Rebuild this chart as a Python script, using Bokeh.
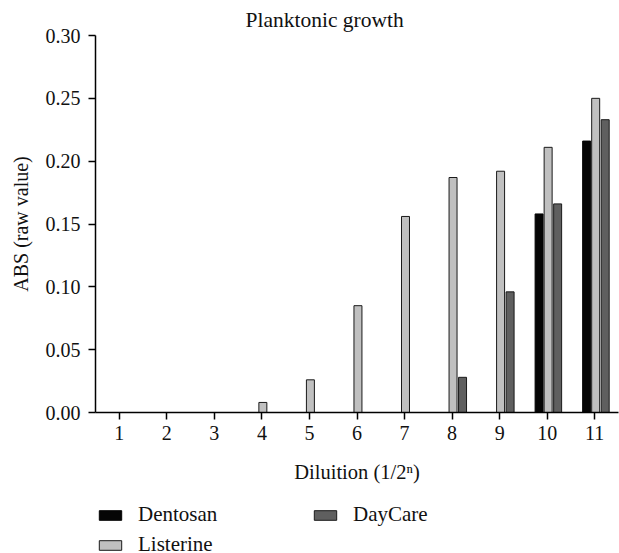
from bokeh.plotting import figure
from bokeh.layouts import column
from bokeh.models import (ColumnDataSource, Legend, LegendItem, FixedTicker, Title,
                          NumeralTickFormatter, CDSView, IndexFilter)
from bokeh.transform import dodge
from bokeh.embed import file_html
from bokeh.resources import INLINE

dilution = [1, 2, 3, 4, 5, 6, 7, 8, 9, 10, 11]
dentosan = [0, 0, 0, 0, 0, 0, 0, 0, 0, 0.158, 0.216]
listerine = [0, 0, 0, 0.008, 0.026, 0.085, 0.156, 0.187, 0.192, 0.211, 0.250]
daycare = [0, 0, 0, 0, 0, 0, 0, 0.028, 0.096, 0.166, 0.233]
y_ticks = [0.0, 0.05, 0.10, 0.15, 0.20, 0.25, 0.30]
series_names = ["Dentosan", "Listerine", "DayCare"]

FONT = "Liberation Serif"
FS = "20px"
FILLS = ["#050505", "#c0c0c0", "#5f5f5f"]
LINES = ["#050505", "#1a1a1a", "#1a1a1a"]
cols = ["dentosan", "listerine", "daycare"]

src = ColumnDataSource(dict(x=dilution, dentosan=dentosan, listerine=listerine, daycare=daycare))

p = figure(width=619, height=498, output_backend="svg", toolbar_location=None,
           x_range=(0.5, 11.5), y_range=(0, 0.30),
           min_border_left=95, min_border_right=1, min_border_top=35, min_border_bottom=86)
p.outline_line_color = None
p.xgrid.visible = False
p.ygrid.visible = False
p.background_fill_color = "white"

t = Title(text="Planktonic growth", align="left", offset=150, standoff=7,
          text_font=FONT, text_font_size="21.5px", text_font_style="normal", text_color="#111111")
p.add_layout(t, "above")

w = 0.168
offsets = [-0.17, 0.02, 0.22]
for off, col, fc, lc in zip(offsets, cols, FILLS, LINES):
    p.vbar(x=dodge("x", off, range=p.x_range), top=col, width=w, source=src,
           fill_color=fc, line_color=lc, line_width=1)

for ax in (p.xaxis[0], p.yaxis[0]):
    ax.axis_line_color = "black"
    ax.axis_line_width = 1.5
    ax.major_tick_line_color = "black"
    ax.major_tick_line_width = 1.5
    ax.major_tick_out = 7
    ax.major_tick_in = 0
    ax.minor_tick_line_color = None
    ax.major_label_text_font = FONT
    ax.major_label_text_font_size = FS
    ax.major_label_text_color = "#111111"
    ax.axis_label_text_font = FONT
    ax.axis_label_text_font_size = FS
    ax.axis_label_text_font_style = "normal"
    ax.axis_label_text_color = "#111111"

p.xaxis.ticker = FixedTicker(ticks=dilution)
p.xaxis.axis_label = "Diluition (1/2ⁿ)"
p.xaxis.axis_label_text_font_size = "20.5px"
p.xaxis.major_label_standoff = 6
p.xaxis.axis_label_standoff = 18

p.yaxis.ticker = FixedTicker(ticks=y_ticks)
p.yaxis.formatter = NumeralTickFormatter(format="0.00")
p.yaxis.axis_label = "ABS (raw value)"
p.yaxis.major_label_standoff = 8
p.yaxis.axis_label_standoff = 11

# legend panel below the chart (its frame is aligned with the chart's frame)
lf = figure(width=619, height=55, output_backend="svg", toolbar_location=None,
            x_range=(100, 101), y_range=(0, 1),
            min_border_left=0, min_border_right=0, min_border_top=0, min_border_bottom=0)
lf.axis.visible = False
lf.xgrid.visible = False
lf.ygrid.visible = False
lf.outline_line_color = None
items = []
for name, col, fc, lc in zip(series_names, cols, FILLS, LINES):
    r = lf.vbar(x="x", top=col, width=0.1, source=src, view=CDSView(filter=IndexFilter([0])),
                fill_color=fc, line_color=lc, line_width=1)
    items.append(LegendItem(label=name, renderers=[r]))

legend = Legend(items=items, nrows=2, location=(1, -4),
                glyph_width=28, glyph_height=12, label_standoff=14,
                label_width=168, label_height=22, spacing=5,
                label_text_font=FONT, label_text_font_size="21px", label_text_color="#111111",
                border_line_color=None, background_fill_alpha=0,
                margin=0, padding=0)
lf.add_layout(legend, "center")

layout = column(p, lf, spacing=0)
open("out.html", "w").write(file_html(layout, INLINE))
